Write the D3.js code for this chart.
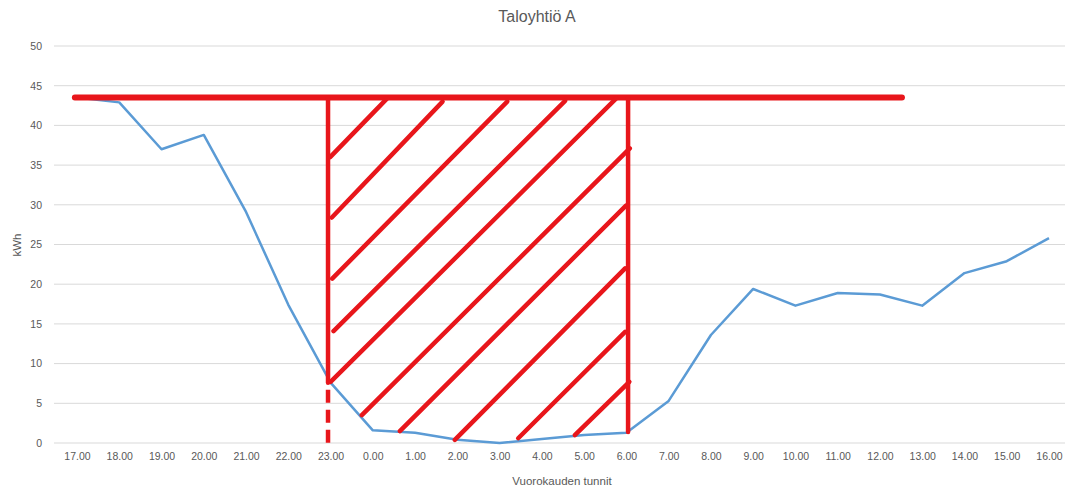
<!DOCTYPE html>
<html>
<head>
<meta charset="utf-8">
<script src="https://cdn.jsdelivr.net/npm/d3@7"></script>
<style>
  html, body { margin: 0; padding: 0; background: #fff; }
  svg { display: block; }
  text { font-family: "Liberation Sans", Arial, sans-serif; fill: #595959; }
</style>
</head>
<body>
<svg id="chart" width="1065" height="488"></svg>
<script>
// ---- data ----
const categories = ["17.00","18.00","19.00","20.00","21.00","22.00","23.00","0.00","1.00","2.00","3.00","4.00","5.00","6.00","7.00","8.00","9.00","10.00","11.00","12.00","13.00","14.00","15.00","16.00"];
const kwhValues = [43.5, 42.9, 37.0, 38.8, 29.1, 17.4, 7.6, 1.6, 1.3, 0.4, 0.0, 0.5, 1.0, 1.3, 5.3, 13.6, 19.4, 17.3, 18.9, 18.7, 17.3, 21.4, 22.9, 25.8];
const yTicks = [0, 5, 10, 15, 20, 25, 30, 35, 40, 45, 50];
const titleText = "Taloyhtiö A";
const xTitle = "Vuorokauden tunnit";
const yTitle = "kWh";

// annotation (hand-drawn red marks), in data units: [categoryIndex, kWh]
const capLevel = 43.5;
const capLine = [[-0.05, 43.5], [19.52, 43.5]];
const leftBoundSolid = [[5.94, 43.5], [5.94, 7.6]];
const leftBoundDashed = [[5.94, 7.6], [5.94, 0]];
const rightBound = [[13.04, 43.5], [13.04, 1.4]];
const hatchStarts = [[5.99, 36.0], [6.03, 28.4], [6.04, 20.7], [6.07, 14.1], [6.00, 7.7], [6.74, 3.5], [7.64, 1.5], [8.94, 0.4], [10.44, 0.6], [11.78, 1.0]];
const hatchEnds   = [[7.34, 43.4], [8.65, 43.0], [10.18, 43.0], [11.55, 43.1], [12.76, 43.4], [13.08, 37.1], [12.99, 29.9], [12.97, 22.0], [12.97, 14.0], [13.07, 7.7]];

// ---- scales ----
const svg = d3.select("#chart");
const x = d3.scalePoint().domain(categories).range([77, 1049]);
const xi = d3.scaleLinear().domain([0, categories.length - 1]).range([77, 1049]);
const y = d3.scaleLinear().domain([0, 50]).range([443, 46]);
const gridLeft = 54, gridRight = 1070;

// gridlines
svg.append("g").selectAll("line").data(yTicks).join("line")
  .attr("x1", gridLeft).attr("x2", gridRight)
  .attr("y1", d => y(d)).attr("y2", d => y(d))
  .attr("stroke", "#d9d9d9").attr("stroke-width", 1);

// y axis labels
const yAxis = d3.axisLeft(y).tickValues(yTicks).tickSize(0).tickPadding(0).tickFormat(d3.format("d"));
const gy = svg.append("g").attr("transform", `translate(42,0)`).call(yAxis);
gy.select(".domain").remove();
gy.selectAll("text").attr("font-size", "10.5px").attr("fill", "#595959")
  .style("font-family", "'Liberation Sans', Arial, sans-serif");

// x axis labels
const xAxis = d3.axisBottom(x).tickSize(0).tickPadding(0);
const gx = svg.append("g").attr("transform", `translate(0,453)`).call(xAxis);
gx.select(".domain").remove();
gx.selectAll("text").attr("font-size", "10.5px").attr("fill", "#595959")
  .style("font-family", "'Liberation Sans', Arial, sans-serif");

// titles
svg.append("text").attr("x", 537).attr("y", 22).attr("text-anchor", "middle")
  .attr("font-size", "16px").text(titleText);
svg.append("text").attr("x", 562).attr("y", 485).attr("text-anchor", "middle")
  .attr("font-size", "11.5px").text(xTitle);
svg.append("text").attr("transform", "translate(21,245) rotate(-90)").attr("text-anchor", "middle")
  .attr("font-size", "11.5px").text(yTitle);

// data line
const line = d3.line().x((d, i) => x(categories[i])).y(d => y(d));
svg.append("path").datum(kwhValues)
  .attr("d", line).attr("fill", "none")
  .attr("stroke", "#5b9bd5").attr("stroke-width", 2.5).attr("stroke-linejoin", "round");

// red annotation
const red = "#e8161b";
const seg = d3.line().x(d => xi(d[0])).y(d => y(d[1]));
const ann = svg.append("g").attr("fill", "none").attr("stroke", red).attr("stroke-linecap", "round");
ann.append("path").attr("d", seg(capLine)).attr("stroke-width", 6);
ann.append("path").attr("d", seg(leftBoundSolid)).attr("stroke-width", 4.5);
ann.append("path").attr("d", seg(leftBoundDashed)).attr("stroke-width", 4.5)
  .attr("stroke-linecap", "butt").attr("stroke-dasharray", "13,7").attr("stroke-dashoffset", -7);
ann.append("path").attr("d", seg(rightBound)).attr("stroke-width", 4.5);
ann.selectAll(".hatch").data(hatchStarts.map((s, i) => [s, hatchEnds[i]])).join("path")
  .attr("class", "hatch").attr("d", d => seg(d)).attr("stroke-width", 4.5);
</script>
</body>
</html>
